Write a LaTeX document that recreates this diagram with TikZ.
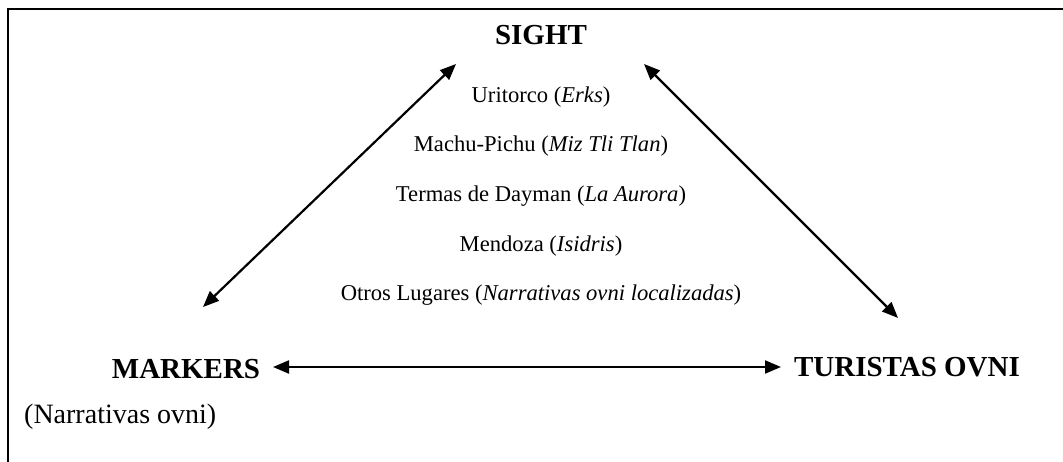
\documentclass[tikz,border=0pt]{standalone}
\usepackage{fontspec}
\setmainfont{Liberation Serif}
\usetikzlibrary{arrows.meta}
\begin{document}
\begin{tikzpicture}[x=1pt,y=-1pt,
  title/.style={font=\fontsize{29}{30}\selectfont\bfseries, anchor=base, inner sep=0pt},
  item/.style={font=\fontsize{22.6}{24}\selectfont, anchor=base, inner sep=0pt},
  note/.style={font=\fontsize{28}{30}\selectfont, anchor=base west, inner sep=0pt},
  link/.style={line width=2.2pt, {Triangle[length=16pt,width=13pt]}-{Triangle[length=16pt,width=13pt]}},
  frame/.style={line width=2.2pt}]
\useasboundingbox (0,0) rectangle (1063,462);
\draw[frame] (8,462) -- (8,9) -- (1063,9);
\node[title] (sight) at (541,45) {SIGHT};
\node[title] (markers) at (186,378) {MARKERS};
\node[title] (turistas) at (907,377) {TURISTAS OVNI};
\node[item] (l1) at (541,103) {Uritorco (\textit{Erks})};
\node[item] (l2) at (541,152) {Machu-Pichu (\textit{Miz Tli Tlan})};
\node[item] (l3) at (541,202) {Termas de Dayman (\textit{La Aurora})};
\node[item] (l4) at (541,252) {Mendoza (\textit{Isidris})};
\node[item] (l5) at (541,301) {Otros Lugares (\textit{Narrativas ovni localizadas})};
\node[note] (nar) at (24,423) {(Narrativas ovni)};
\coordinate (sL) at (456,64);
\coordinate (mT) at (203,307);
\coordinate (sR) at (644,64);
\coordinate (tT) at (898,318);
\coordinate (mR) at (273,367);
\coordinate (tL) at (781,367);
\draw[link] (mT) -- (sL);
\draw[link] (sR) -- (tT);
\draw[link] (mR) -- (tL);
\end{tikzpicture}
\end{document}
